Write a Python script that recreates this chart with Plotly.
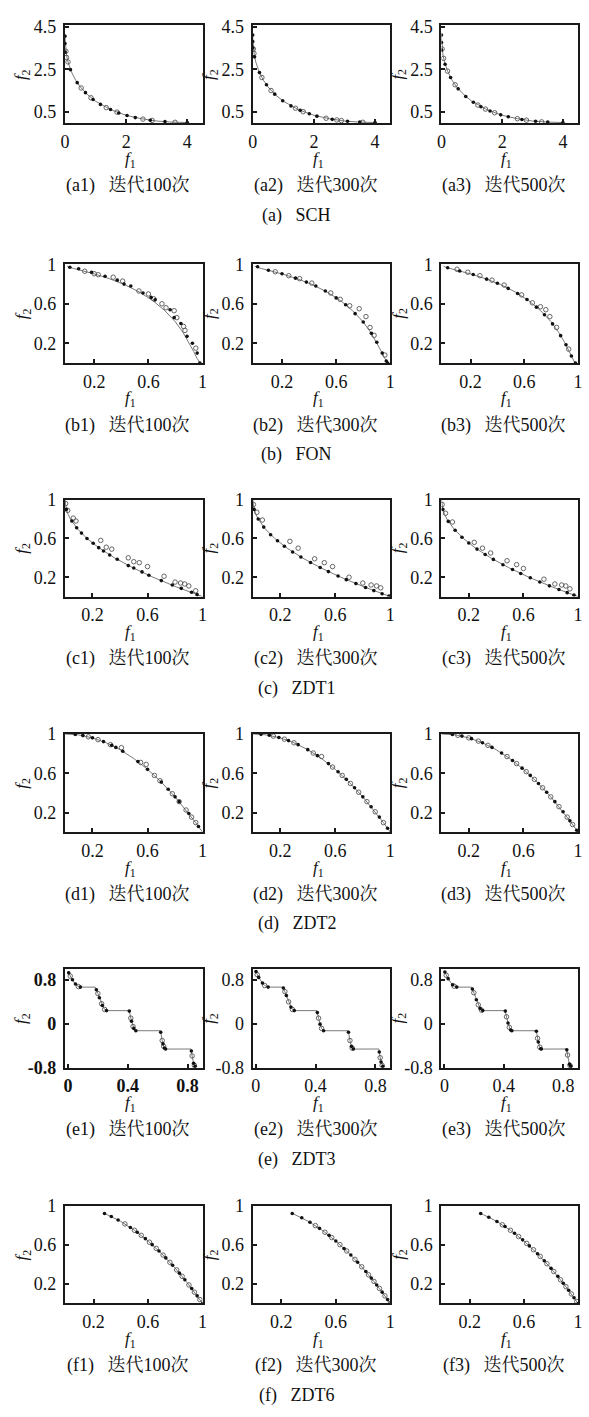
import plotly.graph_objects as go

FONT = "Liberation Serif, 'Noto Serif CJK SC', 'Noto Sans CJK SC', serif"
W, H = 589, 1417

# ---------------- Pareto fronts ----------------
SCH_F1 = [0, 0.02, 0.05, 0.1, 0.2, 0.35, 0.5, 0.75, 1.0, 1.5, 2.0, 2.5, 3.0, 3.5, 4.0]
SCH_F2 = [4.0, 3.45, 3.16, 2.84, 2.41, 1.98, 1.67, 1.29, 1.0, 0.60, 0.34, 0.18, 0.07, 0.02, 0.0]

FON_F1 = [0, 0.01, 0.048, 0.116, 0.206, 0.311, 0.422, 0.531, 0.632, 0.721, 0.796, 0.855, 0.901, 0.934, 0.958, 0.973, 0.982]
FON_F2 = [0.982, 0.973, 0.958, 0.934, 0.901, 0.855, 0.796, 0.721, 0.632, 0.531, 0.422, 0.311, 0.206, 0.116, 0.048, 0.01, 0.0]

ZDT1_F1 = [0, 0.0025, 0.01, 0.0225, 0.04, 0.09, 0.16, 0.25, 0.36, 0.49, 0.64, 0.81, 1.0]
ZDT1_F2 = [1.0, 0.95, 0.9, 0.85, 0.8, 0.7, 0.6, 0.5, 0.4, 0.3, 0.2, 0.1, 0.0]

ZDT2_F1 = [0, 0.05, 0.1, 0.2, 0.3, 0.4, 0.5, 0.6, 0.7, 0.8, 0.9, 0.95, 1.0]
ZDT2_F2 = [1.0, 0.9975, 0.99, 0.96, 0.91, 0.84, 0.75, 0.64, 0.51, 0.36, 0.19, 0.0975, 0.0]

ZDT3_F1 = [0, 0.01, 0.02, 0.04, 0.06, 0.083, 0.1822, 0.2, 0.22, 0.24, 0.2578, 0.4093, 0.42, 0.43, 0.44,
           0.4539, 0.6184, 0.63, 0.64, 0.6525, 0.8233, 0.83, 0.84, 0.8518]
ZDT3_F2 = [0.96, 0.897, 0.847, 0.762, 0.698, 0.670, 0.6695, 0.553, 0.402, 0.282, 0.242, 0.242, 0.105, -0.004,
           -0.082, -0.124, -0.124, -0.303, -0.409, -0.458, -0.457, -0.583, -0.715, -0.774]

ZDT6_F1 = [0.2808, 0.3, 0.4, 0.5, 0.6, 0.7, 0.8, 0.9, 1.0]
ZDT6_F2 = [0.921, 0.91, 0.84, 0.75, 0.64, 0.51, 0.36, 0.19, 0.0]

# ---------------- obtained solutions: filled dots / hollow circles ----------------
# SCH
SCH_100_DOT_F1 = [0, 0, 0, 0.18, 0.4, 0.67, 0.92, 1.16, 1.49, 1.76, 2.03, 2.3, 2.79, 3.27, 4.0]
SCH_100_DOT_F2 = [4.05, 3.7, 3.3, 2.48, 1.87, 1.40, 1.08, 0.85, 0.61, 0.45, 0.33, 0.23, 0.11, 0.04, 0.0]
SCH_100_RING_F1 = [0.03, 0.05, 0.1, 0.53, 0.85, 1.35, 1.7, 2.55, 2.85, 3.6]
SCH_100_RING_F2 = [3.34, 3.05, 2.84, 1.62, 1.16, 0.70, 0.49, 0.16, 0.10, 0.01]
SCH_300_DOT_F1 = [0, 0, 0, 0.06, 0.22, 0.45, 0.72, 0.98, 1.25, 1.55, 1.85, 2.1, 2.6, 3.1, 3.5, 4.0]
SCH_300_DOT_F2 = [4.1, 3.8, 3.5, 3.08, 2.34, 1.77, 1.33, 1.02, 0.78, 0.57, 0.41, 0.30, 0.15, 0.06, 0.02, 0.0]
SCH_300_RING_F1 = [0.02, 0.04, 0.3, 0.6, 1.4, 1.65, 2.4, 2.75, 2.9, 3.6]
SCH_300_RING_F2 = [3.45, 3.24, 2.11, 1.50, 0.67, 0.51, 0.20, 0.12, 0.09, 0.01]
SCH_500_DOT_F1 = [0, 0, 0, 0.12, 0.3, 0.55, 0.8, 1.05, 1.3, 1.6, 1.95, 2.2, 2.65, 3.1, 3.5, 4.0]
SCH_500_DOT_F2 = [4.1, 3.75, 3.4, 2.73, 2.11, 1.58, 1.22, 0.95, 0.74, 0.54, 0.36, 0.27, 0.14, 0.06, 0.02, 0.0]
SCH_500_RING_F1 = [0.02, 0.07, 0.2, 0.45, 1.2, 1.45, 1.75, 2.5, 2.8, 3.3]
SCH_500_RING_F2 = [3.45, 3.01, 2.41, 1.77, 0.82, 0.63, 0.46, 0.18, 0.11, 0.03]

# FON
FON_100_DOT_F1 = [0.02, 0.085, 0.18, 0.28, 0.37, 0.42, 0.47, 0.56, 0.62, 0.65, 0.76, 0.79, 0.84, 0.885, 0.925, 0.96, 0.98]
FON_100_DOT_F2 = [0.97, 0.955, 0.92, 0.88, 0.84, 0.80, 0.78, 0.71, 0.665, 0.64, 0.54, 0.46, 0.40, 0.27, 0.20, 0.10, 0.0]
FON_100_RING_F1 = [0.13, 0.2, 0.23, 0.34, 0.41, 0.53, 0.6, 0.64, 0.70, 0.73, 0.79, 0.81, 0.86, 0.87, 0.95]
FON_100_RING_F2 = [0.93, 0.905, 0.895, 0.87, 0.83, 0.73, 0.70, 0.65, 0.60, 0.56, 0.53, 0.46, 0.37, 0.33, 0.15]
FON_300_DOT_F1 = [0.02, 0.1, 0.2, 0.3, 0.38, 0.45, 0.52, 0.6, 0.67, 0.74, 0.8, 0.86, 0.9, 0.94, 0.97, 0.98]
FON_300_DOT_F2 = [0.975, 0.94, 0.905, 0.86, 0.82, 0.78, 0.73, 0.66, 0.59, 0.50, 0.415, 0.30, 0.21, 0.10, 0.02, 0.0]
FON_300_RING_F1 = [0.15, 0.25, 0.33, 0.42, 0.56, 0.63, 0.7, 0.77, 0.82, 0.85, 0.88, 0.96]
FON_300_RING_F2 = [0.925, 0.885, 0.855, 0.81, 0.71, 0.645, 0.58, 0.55, 0.47, 0.36, 0.28, 0.08]
FON_500_DOT_F1 = [0.03, 0.12, 0.22, 0.32, 0.4, 0.48, 0.55, 0.62, 0.69, 0.75, 0.81, 0.87, 0.91, 0.95, 0.98]
FON_500_DOT_F2 = [0.965, 0.932, 0.897, 0.85, 0.808, 0.756, 0.705, 0.643, 0.566, 0.489, 0.396, 0.277, 0.185, 0.07, 0.0]
FON_500_RING_F1 = [0.1, 0.18, 0.27, 0.36, 0.45, 0.58, 0.66, 0.72, 0.76, 0.79, 0.84, 0.93]
FON_500_RING_F2 = [0.95, 0.92, 0.885, 0.84, 0.79, 0.69, 0.61, 0.57, 0.54, 0.47, 0.36, 0.14]

# ZDT1
ZDT1_100_DOT_F1 = [0.01, 0.05, 0.085, 0.12, 0.16, 0.205, 0.245, 0.28, 0.325, 0.38, 0.46, 0.5, 0.56, 0.61, 0.7, 0.78, 0.845, 0.92, 0.96]
ZDT1_100_DOT_F2 = [0.90, 0.78, 0.71, 0.655, 0.60, 0.55, 0.505, 0.47, 0.43, 0.385, 0.32, 0.295, 0.255, 0.22, 0.165, 0.12, 0.085, 0.045, 0.02]
ZDT1_100_RING_F1 = [0.005, 0.02, 0.06, 0.08, 0.26, 0.3, 0.34, 0.46, 0.5, 0.54, 0.6, 0.72, 0.8, 0.84, 0.87, 0.9, 0.95]
ZDT1_100_RING_F2 = [0.96, 0.89, 0.81, 0.78, 0.58, 0.51, 0.49, 0.40, 0.36, 0.35, 0.31, 0.21, 0.15, 0.14, 0.13, 0.11, 0.06]
ZDT1_300_DOT_F1 = [0.01, 0.04, 0.08, 0.13, 0.18, 0.23, 0.29, 0.35, 0.42, 0.49, 0.55, 0.62, 0.68, 0.75, 0.82, 0.88, 0.94, 0.99]
ZDT1_300_DOT_F2 = [0.9, 0.8, 0.717, 0.639, 0.576, 0.52, 0.461, 0.408, 0.352, 0.3, 0.258, 0.213, 0.175, 0.134, 0.094, 0.062, 0.03, 0.005]
ZDT1_300_RING_F1 = [0.005, 0.03, 0.07, 0.27, 0.33, 0.45, 0.52, 0.58, 0.7, 0.8, 0.86, 0.9, 0.93]
ZDT1_300_RING_F2 = [0.95, 0.87, 0.79, 0.57, 0.5, 0.39, 0.35, 0.31, 0.2, 0.14, 0.12, 0.11, 0.09]
ZDT1_500_DOT_F1 = [0.01, 0.05, 0.1, 0.15, 0.2, 0.26, 0.32, 0.38, 0.45, 0.52, 0.58, 0.65, 0.72, 0.79, 0.86, 0.92, 0.97]
ZDT1_500_DOT_F2 = [0.9, 0.776, 0.684, 0.613, 0.553, 0.49, 0.434, 0.384, 0.329, 0.279, 0.238, 0.194, 0.151, 0.111, 0.073, 0.041, 0.015]
ZDT1_500_RING_F1 = [0.005, 0.03, 0.08, 0.24, 0.3, 0.36, 0.48, 0.55, 0.6, 0.75, 0.83, 0.88, 0.91, 0.94]
ZDT1_500_RING_F2 = [0.95, 0.86, 0.77, 0.56, 0.5, 0.45, 0.37, 0.33, 0.29, 0.18, 0.13, 0.12, 0.11, 0.08]

# ZDT2
ZDT2_100_DOT_F1 = [0.075, 0.13, 0.2, 0.28, 0.34, 0.37, 0.42, 0.53, 0.6, 0.7, 0.75, 0.8, 0.83, 0.9, 0.97]
ZDT2_100_DOT_F2 = [0.994, 0.983, 0.96, 0.922, 0.884, 0.863, 0.824, 0.719, 0.64, 0.51, 0.4375, 0.36, 0.311, 0.19, 0.059]
ZDT2_100_RING_F1 = [0.17, 0.24, 0.33, 0.41, 0.55, 0.59, 0.65, 0.69, 0.78, 0.83, 0.88, 0.92, 0.95]
ZDT2_100_RING_F2 = [0.971, 0.942, 0.891, 0.86, 0.71, 0.69, 0.578, 0.524, 0.392, 0.311, 0.226, 0.154, 0.098]
ZDT2_300_DOT_F1 = [0.06, 0.12, 0.19, 0.26, 0.33, 0.4, 0.47, 0.55, 0.62, 0.68, 0.74, 0.8, 0.86, 0.92, 0.98]
ZDT2_300_DOT_F2 = [0.996, 0.986, 0.964, 0.932, 0.891, 0.84, 0.779, 0.698, 0.616, 0.538, 0.452, 0.36, 0.26, 0.154, 0.04]
ZDT2_300_RING_F1 = [0.15, 0.23, 0.3, 0.44, 0.5, 0.58, 0.65, 0.71, 0.77, 0.83, 0.89, 0.95]
ZDT2_300_RING_F2 = [0.978, 0.947, 0.91, 0.806, 0.77, 0.663, 0.578, 0.496, 0.407, 0.311, 0.208, 0.098]
ZDT2_500_DOT_F1 = [0.08, 0.15, 0.22, 0.3, 0.37, 0.44, 0.52, 0.59, 0.65, 0.71, 0.77, 0.83, 0.89, 0.94, 0.99]
ZDT2_500_DOT_F2 = [0.994, 0.978, 0.952, 0.91, 0.863, 0.806, 0.73, 0.652, 0.578, 0.496, 0.407, 0.311, 0.208, 0.116, 0.02]
ZDT2_500_RING_F1 = [0.12, 0.2, 0.27, 0.34, 0.48, 0.55, 0.62, 0.68, 0.74, 0.8, 0.86, 0.92, 0.96]
ZDT2_500_RING_F2 = [0.986, 0.96, 0.927, 0.884, 0.77, 0.698, 0.616, 0.538, 0.452, 0.36, 0.26, 0.154, 0.078]

# ZDT3
ZDT3_100_DOT_F1 = [0.005, 0.03, 0.05, 0.083, 0.19, 0.21, 0.23, 0.2578, 0.41, 0.425, 0.44, 0.4539, 0.62, 0.635, 0.645, 0.6525, 0.825, 0.84, 0.85]
ZDT3_100_DOT_F2 = [0.929, 0.803, 0.726, 0.670, 0.623, 0.477, 0.334, 0.242, 0.233, 0.048, -0.082, -0.124, -0.152, -0.363, -0.440, -0.458, -0.492, -0.715, -0.772]
ZDT3_100_RING_F1 = [0.015, 0.07, 0.2, 0.225, 0.245, 0.42, 0.435, 0.63, 0.64, 0.83, 0.845]
ZDT3_100_RING_F2 = [0.871, 0.679, 0.553, 0.367, 0.263, 0.105, -0.047, -0.303, -0.409, -0.583, -0.754]
ZDT3_300_DOT_F1 = [0.002, 0.02, 0.045, 0.083, 0.185, 0.205, 0.235, 0.2578, 0.412, 0.43, 0.4539, 0.62, 0.64, 0.6525, 0.826, 0.838, 0.85]
ZDT3_300_DOT_F2 = [0.955, 0.847, 0.744, 0.670, 0.654, 0.515, 0.306, 0.242, 0.206, -0.004, -0.124, -0.152, -0.409, -0.458, -0.511, -0.694, -0.772]
ZDT3_300_RING_F1 = [0.01, 0.06, 0.195, 0.22, 0.245, 0.42, 0.44, 0.63, 0.645, 0.832, 0.845]
ZDT3_300_RING_F2 = [0.897, 0.698, 0.589, 0.402, 0.263, 0.105, -0.082, -0.303, -0.440, -0.615, -0.754]
ZDT3_500_DOT_F1 = [0.003, 0.025, 0.055, 0.083, 0.188, 0.215, 0.24, 0.2578, 0.41, 0.428, 0.446, 0.4539, 0.619, 0.632, 0.648, 0.6525, 0.824, 0.842, 0.851]
ZDT3_500_DOT_F2 = [0.945, 0.824, 0.711, 0.670, 0.636, 0.439, 0.282, 0.242, 0.233, 0.016, -0.110, -0.124, -0.135, -0.329, -0.452, -0.458, -0.472, -0.733, -0.773]
ZDT3_500_RING_F1 = [0.012, 0.065, 0.198, 0.228, 0.25, 0.418, 0.437, 0.627, 0.642, 0.829, 0.846]
ZDT3_500_RING_F2 = [0.886, 0.687, 0.567, 0.347, 0.25, 0.129, -0.062, -0.262, -0.423, -0.566, -0.759]

# ZDT6
ZDT6_100_DOT_F1 = [0.28, 0.33, 0.38, 0.47, 0.52, 0.58, 0.63, 0.68, 0.73, 0.78, 0.83, 0.87, 0.92, 0.96, 1.0]
ZDT6_100_DOT_F2 = [0.922, 0.891, 0.856, 0.779, 0.730, 0.664, 0.603, 0.538, 0.467, 0.392, 0.311, 0.243, 0.154, 0.078, 0.0]
ZDT6_100_RING_F1 = [0.43, 0.5, 0.55, 0.61, 0.66, 0.71, 0.76, 0.81, 0.85, 0.9, 0.94, 0.98]
ZDT6_100_RING_F2 = [0.815, 0.75, 0.698, 0.628, 0.564, 0.496, 0.422, 0.344, 0.278, 0.19, 0.116, 0.040]
ZDT6_300_DOT_F1 = [0.28, 0.35, 0.41, 0.48, 0.55, 0.6, 0.66, 0.71, 0.76, 0.82, 0.86, 0.9, 0.94, 0.98]
ZDT6_300_DOT_F2 = [0.922, 0.878, 0.832, 0.770, 0.698, 0.64, 0.564, 0.496, 0.422, 0.328, 0.260, 0.19, 0.116, 0.040]
ZDT6_300_RING_F1 = [0.45, 0.52, 0.57, 0.63, 0.68, 0.74, 0.79, 0.84, 0.88, 0.92, 0.96, 1.0]
ZDT6_300_RING_F2 = [0.7975, 0.730, 0.675, 0.603, 0.538, 0.452, 0.376, 0.294, 0.226, 0.154, 0.078, 0.0]
ZDT6_500_DOT_F1 = [0.28, 0.34, 0.4, 0.46, 0.53, 0.59, 0.64, 0.7, 0.75, 0.8, 0.85, 0.89, 0.93, 0.97, 1.0]
ZDT6_500_DOT_F2 = [0.922, 0.884, 0.84, 0.788, 0.719, 0.652, 0.590, 0.51, 0.4375, 0.36, 0.278, 0.208, 0.135, 0.059, 0.0]
ZDT6_500_RING_F1 = [0.44, 0.5, 0.56, 0.62, 0.67, 0.72, 0.77, 0.82, 0.87, 0.91, 0.95, 0.99]
ZDT6_500_RING_F2 = [0.806, 0.75, 0.686, 0.616, 0.551, 0.482, 0.407, 0.328, 0.243, 0.172, 0.098, 0.02]

# ---------------- labels ----------------
PROBLEMS = ["SCH", "FON", "ZDT1", "ZDT2", "ZDT3", "ZDT6"]
ROW_LETTERS = ["a", "b", "c", "d", "e", "f"]
ITERATIONS = ["100", "300", "500"]

X_TICKVALS = {"SCH": [0, 2, 4], "FON": [0.2, 0.6, 1], "ZDT1": [0.2, 0.6, 1], "ZDT2": [0.2, 0.6, 1],
              "ZDT3": [0, 0.4, 0.8], "ZDT6": [0.2, 0.6, 1]}
X_TICKTEXT = {"SCH": ["0", "2", "4"], "FON": ["0.2", "0.6", "1"], "ZDT1": ["0.2", "0.6", "1"],
              "ZDT2": ["0.2", "0.6", "1"], "ZDT3": ["0", "0.4", "0.8"], "ZDT6": ["0.2", "0.6", "1"]}
Y_TICKVALS = {"SCH": [0.5, 2.5, 4.5], "FON": [0.2, 0.6, 1], "ZDT1": [0.2, 0.6, 1], "ZDT2": [0.2, 0.6, 1],
              "ZDT3": [-0.8, 0, 0.8], "ZDT6": [0.2, 0.6, 1]}
Y_TICKTEXT = {"SCH": ["0.5", "2.5", "4.5"], "FON": ["0.2", "0.6", "1"], "ZDT1": ["0.2", "0.6", "1"],
              "ZDT2": ["0.2", "0.6", "1"], "ZDT3": ["-0.8", "0", "0.8"], "ZDT6": ["0.2", "0.6", "1"]}
X_RANGE = {"SCH": [0, 4.5], "FON": [-0.016, 1.0], "ZDT1": [0, 1.0], "ZDT2": [0, 1.0],
           "ZDT3": [-0.02, 0.9], "ZDT6": [-0.01, 1.0]}
Y_RANGE = {"SCH": [-0.04, 4.55], "FON": [0, 1.0], "ZDT1": [0, 1.0], "ZDT2": [0, 1.0],
           "ZDT3": [-0.8, 1.0], "ZDT6": [0, 1.0]}

g = globals()

# ---------------- layout (pixels) ----------------
COL_LEFT = [61, 252, 444]
COL_RIGHT = [201, 392, 583]
ROW_TOP = [15.7, 258, 496.7, 734.3, 972.7, 1213]
ROW_BOTTOM = [115, 358, 595, 834, 1073, 1312]


def px(x):
    return x / W


def py(y):
    return 1 - y / H


fig = go.Figure()
annotations = []
layout_axes = {}

LINE_COLOR = "#7a7a7a"
GAP = "\u00a0\u00a0\u00a0"
idx = 0
for r, prob in enumerate(PROBLEMS):
    fx, fy = g[prob + "_F1"], g[prob + "_F2"]
    for c, it in enumerate(ITERATIONS):
        idx += 1
        xa = "x" if idx == 1 else f"x{idx}"
        ya = "y" if idx == 1 else f"y{idx}"
        fig.add_trace(go.Scatter(x=fx, y=fy, mode="lines", xaxis=xa, yaxis=ya,
                                 line=dict(color=LINE_COLOR, width=1), showlegend=False,
                                 hoverinfo="skip"))
        fig.add_trace(go.Scatter(x=g[f"{prob}_{it}_RING_F1"], y=g[f"{prob}_{it}_RING_F2"],
                                 mode="markers", xaxis=xa, yaxis=ya, showlegend=False,
                                 marker=dict(symbol="circle-open", size=4.5, color="#555555",
                                             line=dict(width=0.9))))
        fig.add_trace(go.Scatter(x=g[f"{prob}_{it}_DOT_F1"], y=g[f"{prob}_{it}_DOT_F2"],
                                 mode="markers", xaxis=xa, yaxis=ya, showlegend=False,
                                 marker=dict(symbol="circle", size=3.6, color="#111111")))
        bold = (prob == "ZDT3" and c == 0)
        tfont = dict(family=FONT, size=18, color="#111", weight="bold" if bold else "normal")
        common = dict(showline=True, linecolor="#1a1a1a", linewidth=2, mirror=True,
                      ticks="inside", ticklen=4, tickwidth=1.5, tickcolor="#1a1a1a",
                      showgrid=False, zeroline=False, tickfont=tfont, fixedrange=True)
        xkey = "xaxis" if idx == 1 else f"xaxis{idx}"
        ykey = "yaxis" if idx == 1 else f"yaxis{idx}"
        layout_axes[xkey] = dict(domain=[px(COL_LEFT[c]), px(COL_RIGHT[c])], anchor=ya,
                                 range=X_RANGE[prob], tickvals=X_TICKVALS[prob],
                                 ticktext=X_TICKTEXT[prob], ticklabelstandoff=1, **common)
        layout_axes[ykey] = dict(domain=[py(ROW_BOTTOM[r]), py(ROW_TOP[r])], anchor=xa,
                                 range=Y_RANGE[prob], tickvals=Y_TICKVALS[prob],
                                 ticktext=Y_TICKTEXT[prob], ticklabelstandoff=3, **common)

        cx = (COL_LEFT[c] + COL_RIGHT[c]) / 2
        cy = (ROW_TOP[r] + ROW_BOTTOM[r]) / 2
        # axis titles
        annotations.append(dict(x=px(cx - 3), y=py(ROW_BOTTOM[r] + 37), xref="paper", yref="paper",
                                text="<i>f</i><sub>1</sub>", showarrow=False,
                                font=dict(family=FONT, size=17, color="#111"),
                                xanchor="center", yanchor="middle"))
        annotations.append(dict(x=px(COL_LEFT[c] - 43), y=py(cy), xref="paper", yref="paper",
                                text="<i>f</i><sub>2</sub>", showarrow=False, textangle=-90,
                                font=dict(family=FONT, size=17, color="#111"),
                                xanchor="center", yanchor="middle"))
        # sub caption
        annotations.append(dict(x=px(cx - 6), y=py(ROW_BOTTOM[r] + 63), xref="paper", yref="paper",
                                text=f"({ROW_LETTERS[r]}{c + 1}){GAP}迭代{it}次", showarrow=False,
                                font=dict(family=FONT, size=18, color="#111"),
                                xanchor="center", yanchor="middle"))
    # row title
    annotations.append(dict(x=px(297), y=py(ROW_BOTTOM[r] + 93), xref="paper", yref="paper",
                            text=f"({ROW_LETTERS[r]}){GAP}{prob}", showarrow=False,
                            font=dict(family=FONT, size=18, color="#111"),
                            xanchor="center", yanchor="middle"))

fig.update_layout(width=W, height=H, margin=dict(l=0, r=0, t=0, b=0),
                  paper_bgcolor="white", plot_bgcolor="white",
                  font=dict(family=FONT, size=16, color="#111"),
                  annotations=annotations, showlegend=False, **layout_axes)

fig.write_html("out.html", config={"displayModeBar": False},
               post_script="document.body.style.margin='0';")
